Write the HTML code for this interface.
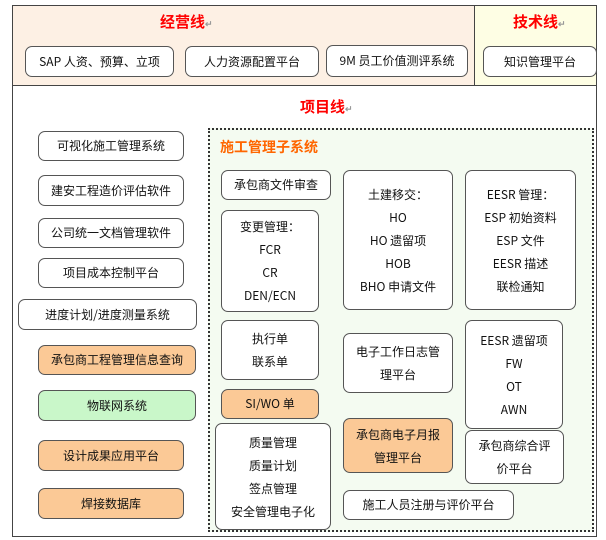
<!DOCTYPE html>
<html><head><meta charset="utf-8"><style>
*{margin:0;padding:0;box-sizing:border-box}
body{width:606px;height:540px;background:#fff;position:relative;overflow:hidden;font-family:"Liberation Serif","Noto Serif CJK SC","Noto Sans CJK SC",serif;font-size:12px;color:#111}
.a{position:absolute}
.b{position:absolute;border:1.3px solid #555;border-radius:7px;background:#fff;display:flex;flex-direction:column;align-items:center;justify-content:center;text-align:center;line-height:16px}
.o{background:#fbc996}
.g{background:#c9f7c9}
.r{color:#f00;font-weight:bold;font-size:15px;font-family:"Noto Sans CJK SC",sans-serif}
.s{font-family:"Noto Sans CJK SC",sans-serif;font-size:12px}
.m{color:#999;font-size:9px}
.tall{line-height:23px}
</style></head><body>
<div class="a" style="left:12px;top:5px;width:585px;height:532px;border:1.3px solid #444"></div>
<div class="a" style="left:13px;top:6px;width:461px;height:79px;background:#fdf0e4"></div>
<div class="a" style="left:474px;top:6px;width:122px;height:79px;background:#fefee4;border-left:1.3px solid #444"></div>
<div class="a" style="left:13px;top:85px;width:583px;height:1.3px;background:#444"></div>
<div class="a r" style="left:160px;top:11px">经营线<span class="m">↵</span></div>
<div class="a r" style="left:513px;top:11px">技术线<span class="m">↵</span></div>
<div class="a r" style="left:300px;top:96px">项目线<span class="m">↵</span></div>

<div class="b s" style="left:25px;top:46px;width:149px;height:31px">SAP 人资、预算、立项<span class="m"></span></div>
<div class="b s" style="left:185px;top:46px;width:134px;height:31px">人力资源配置平台</div>
<div class="b s" style="left:326px;top:45px;width:142px;height:32px">9M 员工价值测评系统</div>
<div class="b s" style="left:483px;top:46px;width:114px;height:31px">知识管理平台</div>

<div class="b s" style="left:38px;top:131px;width:146px;height:30px">可视化施工管理系统</div>
<div class="b s" style="left:38px;top:175px;width:146px;height:31px">建安工程造价评估软件</div>
<div class="b s" style="left:38px;top:218px;width:146px;height:30px">公司统一文档管理软件</div>
<div class="b s" style="left:38px;top:258px;width:146px;height:30px">项目成本控制平台</div>
<div class="b s" style="left:18px;top:299px;width:179px;height:31px">进度计划/进度测量系统</div>
<div class="b s o" style="left:38px;top:345px;width:158px;height:30px">承包商工程管理信息查询</div>
<div class="b s g" style="left:38px;top:390px;width:158px;height:31px">物联网系统</div>
<div class="b s o" style="left:38px;top:440px;width:146px;height:31px">设计成果应用平台</div>
<div class="b s o" style="left:38px;top:488px;width:146px;height:31px">焊接数据库</div>

<div class="a" style="left:208px;top:128px;width:386px;height:404px;border:2px dotted #333;background:#f4fbf1"></div>
<div class="a s" style="left:220px;top:137px;color:#f60;font-weight:bold;font-size:14px">施工管理子系统</div>

<div class="b s" style="left:221px;top:170px;width:110px;height:30px">承包商文件审查</div>
<div class="b s tall" style="left:221px;top:210px;width:98px;height:102px">变更管理：<br>FCR<br>CR<br>DEN/ECN</div>
<div class="b s tall" style="left:343px;top:170px;width:110px;height:140px">土建移交：<br>HO<br>HO 遗留项<br>HOB<br>BHO 申请文件</div>
<div class="b s tall" style="left:465px;top:170px;width:111px;height:140px">EESR 管理：<br>ESP 初始资料<br>ESP 文件<br>EESR 描述<br>联检通知</div>
<div class="b s tall" style="left:221px;top:320px;width:98px;height:60px">执行单<br>联系单</div>
<div class="b s tall" style="left:343px;top:333px;width:110px;height:60px">电子工作日志管<br>理平台</div>
<div class="b s tall" style="left:465px;top:320px;width:98px;height:109px">EESR 遗留项<br>FW<br>OT<br>AWN</div>
<div class="b s o" style="left:221px;top:389px;width:98px;height:30px">SI/WO 单</div>
<div class="b s tall" style="left:215px;top:423px;width:116px;height:107px">质量管理<br>质量计划<br>签点管理<br>安全管理电子化</div>
<div class="b s o tall" style="left:343px;top:418px;width:110px;height:55px">承包商电子月报<br>管理平台</div>
<div class="b s tall" style="left:465px;top:430px;width:99px;height:54px">承包商综合评<br>价平台</div>
<div class="b s" style="left:343px;top:490px;width:171px;height:30px">施工人员注册与评价平台</div>
</body></html>
